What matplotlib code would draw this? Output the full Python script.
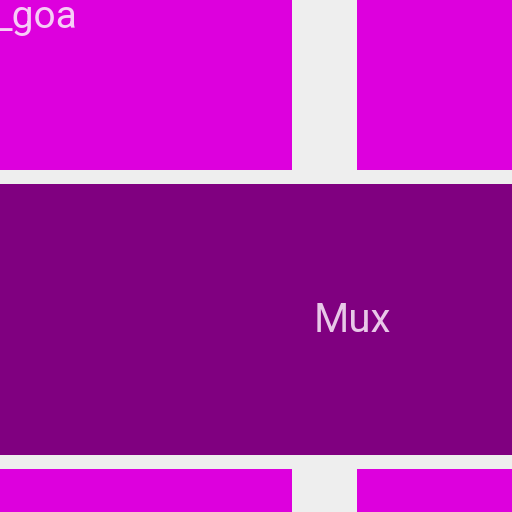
import matplotlib
matplotlib.use("Agg")
from matplotlib import pyplot as plt
from matplotlib.patches import Rectangle

# tiles of the treemap (zoomed view), in view units
tile_x0 = [-20, 357, -20, -20, 357]
tile_x1 = [292, 530, 530, 292, 530]
tile_y0 = [-20, -20, 184, 469, 469]
tile_y1 = [170, 170, 455, 530, 530]
tile_color = ["#DD00DD", "#DD00DD", "#800080", "#DD00DD", "#DD00DD"]

labels = ["_goa", "Mux"]
label_x = [-5, 352]
label_y = [18, 320]
label_size = [28, 29]
label_color = ["#F7CCF7", "#E8C8E8"]
label_ha = ["left", "center"]

fig = plt.figure(figsize=(5.12, 5.12), dpi=100)
fig.patch.set_facecolor("#EEEEEE")
ax = fig.add_axes([0, 0, 1, 1])
ax.set_facecolor("#EEEEEE")

for x0, x1, y0, y1, c in zip(tile_x0, tile_x1, tile_y0, tile_y1, tile_color):
    ax.add_patch(Rectangle((x0, y0), x1 - x0, y1 - y0, facecolor=c,
                           edgecolor="none"))

for t, x, y, s, c, ha in zip(labels, label_x, label_y, label_size,
                             label_color, label_ha):
    ax.text(x, y, t, color=c, ha=ha, va="center", fontsize=s,
            family=["Roboto", "DejaVu Sans"], clip_on=True)

ax.set_xlim(0, 512)
ax.set_ylim(512, 0)
ax.axis("off")

fig.savefig("out.png", dpi=100, facecolor=fig.get_facecolor())
